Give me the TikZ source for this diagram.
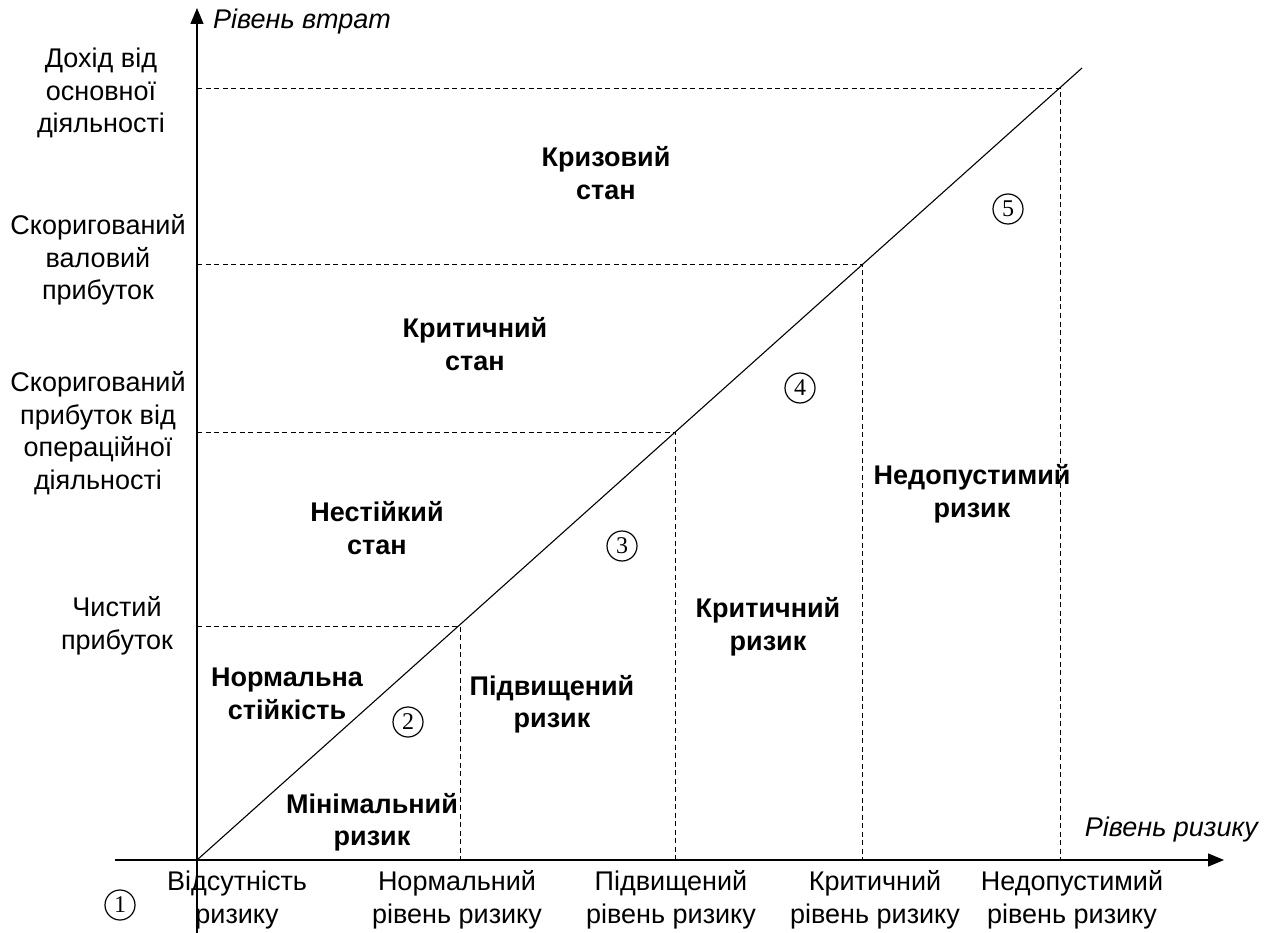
\documentclass[tikz,border=0pt]{standalone}
\usepackage{fontspec}
\setmainfont{Liberation Sans}
\newfontfamily\numfont{Liberation Serif}
\usetikzlibrary{arrows.meta,positioning}

\begin{document}
\begin{tikzpicture}[x=1pt,y=-1pt,
    axis/.style={line width=1.3pt,-{Triangle[length=16pt,width=13pt]}},
    guide/.style={dash pattern=on 5pt off 3.5pt,line width=0.9pt},
    lbl/.style={inner sep=0pt,align=center,font=\fontsize{27}{32.5}\selectfont},
    zone/.style={lbl,font=\fontsize{27}{32.5}\selectfont\bfseries},
    axlbl/.style={inner sep=0pt,font=\fontsize{27}{32.5}\selectfont\itshape},
    zonenum/.style={draw,circle,line width=1.2pt,minimum size=30pt,inner sep=0pt,
        font=\numfont\fontsize{24}{24}\selectfont}]
    \useasboundingbox (0,0) rectangle (1271,933);

    % axes and the limit line
    \coordinate (origin) at (197,860);
    \coordinate (ytop) at (197,8);
    \coordinate (ybot) at (197,933);
    \coordinate (xleft) at (115,860);
    \coordinate (xright) at (1224,860);
    \coordinate (lineend) at (1082,68);
    \draw[axis] (ybot) -- (ytop);
    \draw[axis] (xleft) -- (xright);
    \draw[line width=1.1pt] (origin) -- (lineend);

    % corners on the limit line
    \coordinate (c1) at (460,626);
    \coordinate (c2) at (675,432);
    \coordinate (c3) at (862,264);
    \coordinate (c4) at (1060,88);
    \foreach \c/\x/\y in {c1/460/626,c2/675/432,c3/862/264,c4/1060/88} {
        \coordinate (\c l) at (197,\y);
        \coordinate (\c b) at (\x,860);
        \draw[guide] (\c l) -- (\c) -- (\c b);
    }

    % axis names
    \node[axlbl,anchor=west] (yname) at (213,22) {Рівень втрат};
    \node[axlbl,anchor=east] (xname) at (1258,830) {Рівень ризику};

    % loss levels
    \node[lbl] (income) at (101,93) {Дохід від\\основної\\діяльності};
    \node[lbl] (gross) at (98,260) {Скоригований\\валовий\\прибуток};
    \node[lbl] (oper) at (98,433) {Скоригований\\прибуток від\\операційної\\діяльності};
    \node[lbl] (net) at (117,626) {Чистий\\прибуток};

    % risk levels
    \node[lbl] (none) at (237,900) {Відсутність\\ризику};
    \node[lbl] (normal) at (457,900) {Нормальний\\рівень ризику};
    \node[lbl] (raised) at (671,900) {Підвищений\\рівень ризику};
    \node[lbl] (critical) at (875,900) {Критичний\\рівень ризику};
    \node[lbl] (unaccept) at (1072,900) {Недопустимий\\рівень ризику};

    % zones
    \node[zone] (crisis) at (606,173) {Кризовий\\стан};
    \node[zone] (critstate) at (475,344) {Критичний\\стан};
    \node[zone] (unstable) at (377,528) {Нестійкий\\стан};
    \node[zone] (stable) at (287,694) {Нормальна\\стійкість};
    \node[zone] (minrisk) at (372,822) {Мінімальний\\ризик};
    \node[zone] (highrisk) at (552,704) {Підвищений\\ризик};
    \node[zone] (critrisk) at (768,627) {Критичний\\ризик};
    \node[zone] (badrisk) at (972,494) {Недопустимий\\ризик};

    % zone numbers
    \foreach \n/\x/\y in {1/120/905,2/408/722,3/622/546,4/800/388,5/1008/209}
        \node[zonenum] (num\n) at (\x,\y) {\n};
\end{tikzpicture}
\end{document}
